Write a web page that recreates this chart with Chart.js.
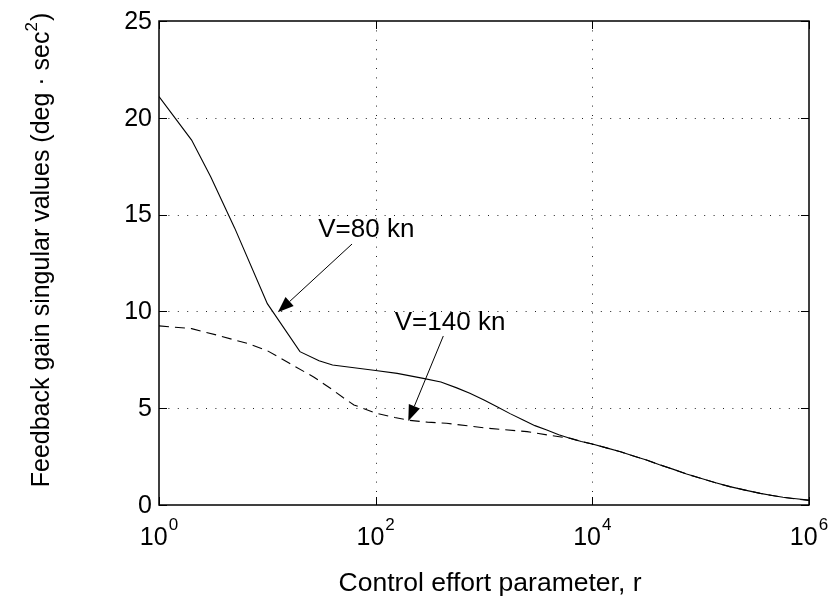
<!DOCTYPE html>
<html>
<head>
<meta charset="utf-8">
<script src="https://cdn.jsdelivr.net/npm/chart.js@4/dist/chart.umd.min.js"></script>
<style>
  html, body { margin: 0; padding: 0; background: #fff; }
  #wrap { width: 833px; height: 598px; }
</style>
</head>
<body>
<div id="wrap"><canvas id="c" width="833" height="598"></canvas></div>
<script>
// Control effort parameter r (log scale) and feedback gain singular values
const rV80 = [1, 2, 3, 5, 10, 20, 30, 40, 100, 158, 275, 400, 560, 740, 1000, 1320, 1740, 2300, 2950,
              3800, 4900, 6300, 7900, 10000, 13500, 18200, 24000, 31600, 41700, 56200, 74100, 100000,
              135000, 186000, 257000, 355000, 457000, 575000, 760000, 1000000];
const gainV80 = [21.1, 18.85, 16.96, 14.3, 10.4, 7.92, 7.45, 7.23, 6.95, 6.8, 6.54, 6.35, 6.05, 5.77, 5.42,
                 5.08, 4.72, 4.39, 4.1, 3.87, 3.63, 3.44, 3.28, 3.15, 2.95, 2.75, 2.53, 2.32, 2.08, 1.84,
                 1.6, 1.38, 1.16, 0.95, 0.77, 0.6, 0.49, 0.4, 0.32, 0.25];

const rV140 = [1, 2, 3.4, 6.5, 10, 16, 27, 40, 50, 63, 100, 150, 200, 300, 450, 1100, 2500, 4000, 6300,
               7900, 10000, 13500, 18200, 24000, 31600, 41700, 56200, 74100, 100000, 135000, 186000,
               257000, 355000, 457000, 575000, 760000, 1000000];
const gainV140 = [9.25, 9.11, 8.78, 8.35, 7.97, 7.32, 6.6, 5.95, 5.55, 5.17, 4.75, 4.52, 4.38, 4.28, 4.22,
                  3.96, 3.79, 3.6, 3.44, 3.28, 3.15, 2.95, 2.75, 2.53, 2.32, 2.08, 1.84, 1.6, 1.38, 1.16,
                  0.95, 0.77, 0.6, 0.49, 0.4, 0.31, 0.24];

// Axis ticks
const xTickExponents = [0, 2, 4, 6];
const yTickValues = [0, 5, 10, 15, 20, 25];

// Axis titles and curve labels
const xTitle = 'Control effort parameter, r';
const yTitleMain = 'Feedback gain singular values (deg \u00B7 sec';
const yTitleSup = '2';
const yTitleEnd = ')';
const curveLabels = ['V=80 kn', 'V=140 kn'];

// Label placement and arrows, in data coordinates (r, gain)
const labelAnchors = [{ r: 82, g: 13.84 }, { r: 486, g: 9.04 }];
const arrowStarts = [{ r: 60.5, g: 13.48 }, { r: 421, g: 8.73 }];
const arrowTips = [{ r: 12.5, g: 9.95 }, { r: 200, g: 4.34 }];

const FONT = '"Liberation Sans", Arial, Helvetica, sans-serif';

function toPoints(xs, ys) { return xs.map((x, i) => ({ x: x, y: ys[i] })); }

const framePlugin = {
  id: 'matlabFrame',
  beforeDatasetsDraw(chart) {
    const { ctx, chartArea: a, scales: { x, y } } = chart;
    ctx.save();
    ctx.strokeStyle = '#222';
    ctx.lineWidth = 1;
    ctx.setLineDash([1, 8.4]);
    yTickValues.forEach(v => {
      if (v === 0 || v === 25) return;
      const py = Math.round(y.getPixelForValue(v)) + 0.5;
      ctx.beginPath(); ctx.moveTo(a.left, py); ctx.lineTo(a.right, py); ctx.stroke();
    });
    xTickExponents.forEach(e => {
      if (e === 0 || e === 6) return;
      const px = Math.round(x.getPixelForValue(Math.pow(10, e))) + 0.5;
      ctx.beginPath(); ctx.moveTo(px, a.top); ctx.lineTo(px, a.bottom); ctx.stroke();
    });
    ctx.restore();
  },
  afterDatasetsDraw(chart) {
    const { ctx, chartArea: a, scales: { x, y } } = chart;
    ctx.save();
    // box
    ctx.strokeStyle = '#000';
    ctx.lineWidth = 1.5;
    ctx.strokeRect(a.left, a.top, a.right - a.left, a.bottom - a.top);
    // inward ticks
    ctx.lineWidth = 1;
    const tl = 8;
    yTickValues.forEach(v => {
      const py = Math.round(y.getPixelForValue(v)) + 0.5;
      ctx.beginPath();
      ctx.moveTo(a.left, py); ctx.lineTo(a.left + tl, py);
      ctx.moveTo(a.right, py); ctx.lineTo(a.right - tl, py);
      ctx.stroke();
    });
    xTickExponents.forEach(e => {
      const px = Math.round(x.getPixelForValue(Math.pow(10, e))) + 0.5;
      ctx.beginPath();
      ctx.moveTo(px, a.bottom); ctx.lineTo(px, a.bottom - tl);
      ctx.moveTo(px, a.top); ctx.lineTo(px, a.top + tl);
      ctx.stroke();
    });

    ctx.fillStyle = '#000';
    // y tick labels
    ctx.font = '25px ' + FONT;
    ctx.textAlign = 'right';
    ctx.textBaseline = 'middle';
    yTickValues.forEach(v => {
      ctx.fillText(String(v), a.left - 7, y.getPixelForValue(v) + 1);
    });
    // x tick labels: 10 with superscript exponent
    ctx.textBaseline = 'alphabetic';
    ctx.textAlign = 'left';
    xTickExponents.forEach(e => {
      const px = x.getPixelForValue(Math.pow(10, e));
      ctx.font = '25px ' + FONT;
      const wb = ctx.measureText('10').width;
      ctx.font = '17px ' + FONT;
      const we = ctx.measureText(String(e)).width;
      const total = wb + 1 + we;
      const x0 = px - total / 2;
      ctx.font = '25px ' + FONT;
      ctx.fillText('10', x0, a.bottom + 40);
      ctx.font = '17px ' + FONT;
      ctx.fillText(String(e), x0 + wb + 1, a.bottom + 25);
    });
    // x title
    ctx.font = '26.5px ' + FONT;
    ctx.textAlign = 'center';
    ctx.fillText(xTitle, (a.left + a.right) / 2 + 6, a.bottom + 86);

    // y title (rotated)
    ctx.save();
    ctx.translate(49, 250);
    ctx.rotate(-Math.PI / 2);
    ctx.textAlign = 'left';
    ctx.font = '25px ' + FONT;
    const w1 = ctx.measureText(yTitleMain).width;
    const w3 = ctx.measureText(yTitleEnd).width;
    ctx.font = '17px ' + FONT;
    const w2 = ctx.measureText(yTitleSup).width;
    const tw = w1 + w2 + 1 + w3;
    let cx = -tw / 2;
    ctx.font = '25px ' + FONT;
    ctx.fillText(yTitleMain, cx, 0);
    cx += w1;
    ctx.font = '17px ' + FONT;
    ctx.fillText(yTitleSup, cx, -12);
    cx += w2 + 1;
    ctx.font = '25px ' + FONT;
    ctx.fillText(yTitleEnd, cx, 0);
    ctx.restore();

    // curve labels with arrows
    ctx.font = '26px ' + FONT;
    ctx.textAlign = 'center';
    curveLabels.forEach((t, i) => {
      ctx.fillText(t, x.getPixelForValue(labelAnchors[i].r), y.getPixelForValue(labelAnchors[i].g));
      const sx = x.getPixelForValue(arrowStarts[i].r), sy = y.getPixelForValue(arrowStarts[i].g);
      const ex = x.getPixelForValue(arrowTips[i].r), ey = y.getPixelForValue(arrowTips[i].g);
      const ang = Math.atan2(ey - sy, ex - sx);
      const hl = 16, hw = 6;
      const bx = ex - hl * Math.cos(ang), by = ey - hl * Math.sin(ang);
      ctx.lineWidth = 1;
      ctx.beginPath(); ctx.moveTo(sx, sy); ctx.lineTo(bx, by); ctx.stroke();
      ctx.beginPath();
      ctx.moveTo(ex, ey);
      ctx.lineTo(bx + hw * Math.sin(ang), by - hw * Math.cos(ang));
      ctx.lineTo(bx - hw * Math.sin(ang), by + hw * Math.cos(ang));
      ctx.closePath();
      ctx.fill();
    });
    ctx.restore();
  }
};

new Chart(document.getElementById('c'), {
  type: 'line',
  data: {
    datasets: [
      {
        label: 'V=80 kn',
        data: toPoints(rV80, gainV80),
        borderColor: '#000',
        borderWidth: 1.1,
        pointRadius: 0,
        fill: false,
        tension: 0
      },
      {
        label: 'V=140 kn',
        data: toPoints(rV140, gainV140),
        borderColor: '#000',
        borderWidth: 1.1,
        borderDash: [10, 6],
        pointRadius: 0,
        fill: false,
        tension: 0
      }
    ]
  },
  options: {
    responsive: false,
    animation: false,
    layout: { padding: { left: 159, right: 24, top: 21, bottom: 93 } },
    plugins: { legend: { display: false }, tooltip: { enabled: false } },
    scales: {
      x: { type: 'logarithmic', min: 1, max: 1000000, display: false },
      y: { type: 'linear', min: 0, max: 25, display: false }
    }
  },
  plugins: [framePlugin]
});
</script>
</body>
</html>
